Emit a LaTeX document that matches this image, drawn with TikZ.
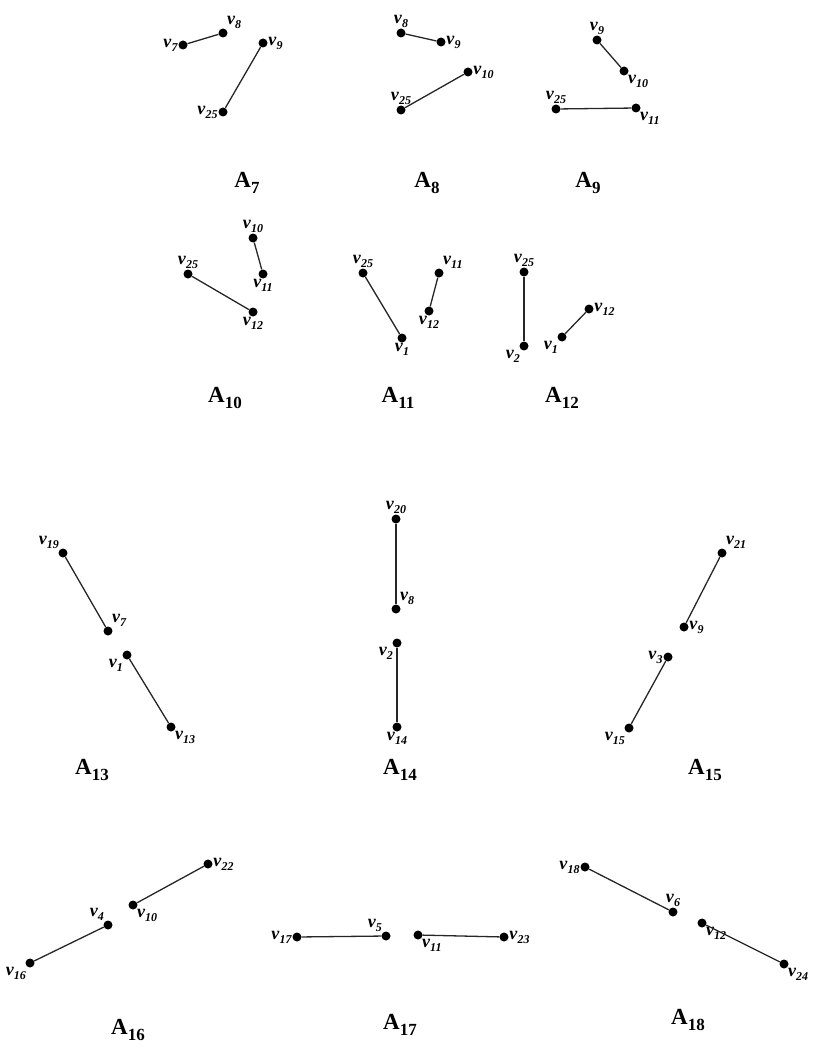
\documentclass[tikz,border=0pt]{standalone}
\usepackage{fontspec}
\setmainfont{Liberation Serif}
\usetikzlibrary{positioning}

% vertex and graph labels
\newcommand{\vl}[1]{\textbf{\textit{v}}\raisebox{-0.5ex}{\fontsize{12}{12}\selectfont\bfseries\itshape #1}}
\newcommand{\al}[1]{\textbf{A}\raisebox{-0.5ex}{\fontsize{17}{17}\selectfont\bfseries #1}}

\begin{document}
\begin{tikzpicture}[
    x=1pt, y=-1pt,
    dot/.style={circle, fill=black, inner sep=0pt, minimum size=9pt},
    edge/.style={line width=1.3pt, draw=black!85},
    vlbl/.style={font=\fontsize{18}{18}\selectfont, inner sep=0.5pt},
    ttl/.style={font=\fontsize{23}{23}\selectfont, inner sep=0pt}
]
\useasboundingbox (0,0) rectangle (813,1051);

% A7
\node[dot, label={[vlbl]left:\vl{7}}] (a7v7) at (183,45) {};
\node[dot, label={[vlbl]above right:\vl{8}}] (a7v8) at (223,33) {};
\node[dot, label={[vlbl]right:\vl{9}}] (a7v9) at (263,43) {};
\node[dot, label={[vlbl]left:\vl{25}}] (a7v25) at (223,112) {};
\draw[edge] (a7v7) -- (a7v8);
\draw[edge] (a7v9) -- (a7v25);
\node[ttl] (a7) at (247,183) {\al{7}};

% A8
\node[dot, label={[vlbl]above:\vl{8}}] (a8v8) at (401,33) {};
\node[dot, label={[vlbl]right:\vl{9}}] (a8v9) at (441,42) {};
\node[dot, label={[vlbl]right:\vl{10}}] (a8v10) at (468,72) {};
\node[dot, label={[vlbl]above:\vl{25}}] (a8v25) at (401,110) {};
\draw[edge] (a8v8) -- (a8v9);
\draw[edge] (a8v25) -- (a8v10);
\node[ttl] (a8) at (427,183) {\al{8}};

% A9
\node[dot, label={[vlbl]above:\vl{9}}] (a9v9) at (597,40) {};
\node[dot, label={[vlbl]below right:\vl{10}}] (a9v10) at (624,71) {};
\node[dot, label={[vlbl]above:\vl{25}}] (a9v25) at (556,109) {};
\node[dot, label={[vlbl]below right:\vl{11}}] (a9v11) at (636,108) {};
\draw[edge] (a9v9) -- (a9v10);
\draw[edge] (a9v25) -- (a9v11);
\node[ttl] (a9) at (588,183) {\al{9}};

% A10
\node[dot, label={[vlbl]above:\vl{10}}] (a10v10) at (253,238) {};
\node[dot, label={[vlbl]below:\vl{11}}] (a10v11) at (263,274) {};
\node[dot, label={[vlbl]above:\vl{25}}] (a10v25) at (188,274) {};
\node[dot, label={[vlbl]below:\vl{12}}] (a10v12) at (253,312) {};
\draw[edge] (a10v10) -- (a10v11);
\draw[edge] (a10v25) -- (a10v12);
\node[ttl] (a10) at (225,398) {\al{10}};

% A11
\node[dot, label={[vlbl]above:\vl{25}}] (a11v25) at (363,273) {};
\node[dot, label={[vlbl]below:\vl{1}}] (a11v1) at (402,338) {};
\node[dot, label={[vlbl]above right:\vl{11}}] (a11v11) at (439,273) {};
\node[dot, label={[vlbl]below:\vl{12}}] (a11v12) at (429,311) {};
\draw[edge] (a11v25) -- (a11v1);
\draw[edge] (a11v11) -- (a11v12);
\node[ttl] (a11) at (398,398) {\al{11}};

% A12
\node[dot, label={[vlbl]above:\vl{25}}] (a12v25) at (524,272) {};
\node[dot, label={[vlbl]below left:\vl{2}}] (a12v2) at (524,346) {};
\node[dot, label={[vlbl]right:\vl{12}}] (a12v12) at (589,309) {};
\node[dot, label={[vlbl]below left:\vl{1}}] (a12v1) at (562,337) {};
\draw[edge] (a12v25) -- (a12v2);
\draw[edge] (a12v1) -- (a12v12);
\node[ttl] (a12) at (562,398) {\al{12}};

% A13
\node[dot, label={[vlbl]above left:\vl{19}}] (a13v19) at (63,553) {};
\node[dot, label={[vlbl]above right:\vl{7}}] (a13v7) at (108,631) {};
\node[dot, label={[vlbl]below left:\vl{1}}] (a13v1) at (127,655) {};
\node[dot, label={[vlbl]below right:\vl{13}}] (a13v13) at (171,727) {};
\draw[edge] (a13v19) -- (a13v7);
\draw[edge] (a13v1) -- (a13v13);
\node[ttl] (a13) at (92,770) {\al{13}};

% A14
\node[dot, label={[vlbl]above:\vl{20}}] (a14v20) at (396,519) {};
\node[dot, label={[vlbl]above right:\vl{8}}] (a14v8) at (396,609) {};
\node[dot, label={[vlbl]below left:\vl{2}}] (a14v2) at (397,643) {};
\node[dot, label={[vlbl]below:\vl{14}}] (a14v14) at (397,727) {};
\draw[edge] (a14v20) -- (a14v8);
\draw[edge] (a14v2) -- (a14v14);
\node[ttl] (a14) at (400,770) {\al{14}};

% A15
\node[dot, label={[vlbl]above right:\vl{21}}] (a15v21) at (722,553) {};
\node[dot, label={[vlbl]right:\vl{9}}] (a15v9) at (684,627) {};
\node[dot, label={[vlbl]left:\vl{3}}] (a15v3) at (668,657) {};
\node[dot, label={[vlbl]below left:\vl{15}}] (a15v15) at (629,728) {};
\draw[edge] (a15v21) -- (a15v9);
\draw[edge] (a15v3) -- (a15v15);
\node[ttl] (a15) at (705,770) {\al{15}};

% A16
\node[dot, label={[vlbl]right:\vl{22}}] (a16v22) at (208,864) {};
\node[dot, label={[vlbl]below right:\vl{10}}] (a16v10) at (133,905) {};
\node[dot, label={[vlbl]above left:\vl{4}}] (a16v4) at (108,925) {};
\node[dot, label={[vlbl]below left:\vl{16}}] (a16v16) at (30,963) {};
\draw[edge] (a16v22) -- (a16v10);
\draw[edge] (a16v4) -- (a16v16);
\node[ttl] (a16) at (128,1030) {\al{16}};

% A17
\node[dot, label={[vlbl]left:\vl{17}}] (a17v17) at (297,937) {};
\node[dot, label={[vlbl]above left:\vl{5}}] (a17v5) at (386,936) {};
\node[dot, label={[vlbl]below right:\vl{11}}] (a17v11) at (418,935) {};
\node[dot, label={[vlbl]right:\vl{23}}] (a17v23) at (504,937) {};
\draw[edge] (a17v17) -- (a17v5);
\draw[edge] (a17v11) -- (a17v23);
\node[ttl] (a17) at (400,1025) {\al{17}};

% A18
\node[dot, label={[vlbl]left:\vl{18}}] (a18v18) at (585,867) {};
\node[dot, label={[vlbl]above:\vl{6}}] (a18v6) at (673,912) {};
\node[dot, label={[vlbl]below right:\vl{12}}] (a18v12) at (702,923) {};
\node[dot, label={[vlbl]below right:\vl{24}}] (a18v24) at (784,964) {};
\draw[edge] (a18v18) -- (a18v6);
\draw[edge] (a18v12) -- (a18v24);
\node[ttl] (a18) at (688,1020) {\al{18}};

\end{tikzpicture}
\end{document}
